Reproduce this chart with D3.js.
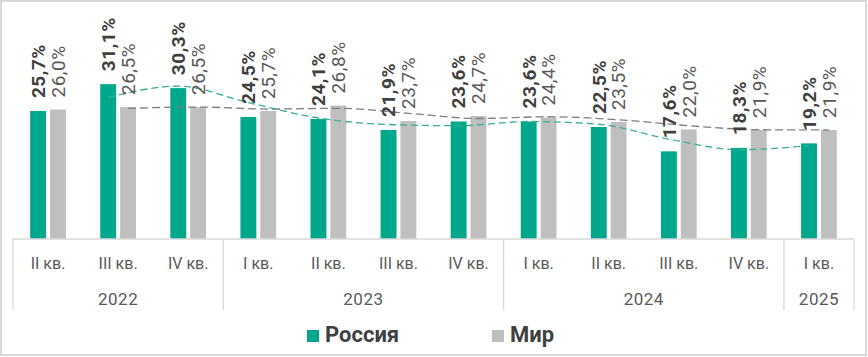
<!DOCTYPE html>
<html><head><meta charset="utf-8">
<script src="https://cdn.jsdelivr.net/npm/d3@7"></script>
<style>body{margin:0;background:#fff}svg{display:block}text{font-family:Roboto,"Noto Sans",sans-serif}</style>
</head><body>
<svg id="c" width="868" height="357"></svg>
<script>
const quarters = ["II кв.","III кв.","IV кв.","I кв.","II кв.","III кв.","IV кв.","I кв.","II кв.","III кв.","IV кв.","I кв."];
const years = [{label:"2022",from:0,to:3},{label:"2023",from:3,to:7},{label:"2024",from:7,to:11},{label:"2025",from:11,to:12}];
const seriesNames = ["Россия","Мир"];
const russia = [25.7,31.1,30.3,24.5,24.1,21.9,23.6,23.6,22.5,17.6,18.3,19.2];
const world  = [26.0,26.5,26.5,25.7,26.8,23.7,24.7,24.4,23.5,22.0,21.9,21.9];
const colors = {"Россия":"#00A88B","Мир":"#BFBFBF"};
const trendColors = {"Россия":"#3AAF94","Мир":"#7F7F7F"};

// 2-period moving average trendline (as in the source chart)
function movingAverage(arr){ return arr.map((v,i)=> i===0 ? null : (arr[i-1]+v)/2); }

const svg = d3.select("#c");
svg.append("rect").attr("x",1).attr("y",1).attr("width",865).attr("height",354)
  .attr("fill","#fff").attr("stroke","#D9D9D9").attr("stroke-width",2);

const left=13, right=854, baseY=239;
const idx = d3.range(quarters.length);
const x = d3.scaleBand().domain(idx).range([left,right]).padding(0);
const bw = x.bandwidth();
const xs = d3.scaleBand().domain(seriesNames).range([bw*0.245, bw*0.755]).paddingInner(0.2);
const y = d3.scaleLinear().domain([0,48]).range([baseY,0]);

const data = {"Россия":russia,"Мир":world};

// bars
seriesNames.forEach(s=>{
  svg.append("g").selectAll("rect").data(data[s]).join("rect")
    .attr("x",(d,i)=>x(i)+xs(s)).attr("width",xs.bandwidth())
    .attr("y",d=>y(d)).attr("height",d=>baseY-y(d)).attr("fill",colors[s]);
});

// trendlines
const line = d3.line().defined(d=>d[1]!=null).x(d=>d[0]).y(d=>y(d[1])).curve(d3.curveMonotoneX);
[["Мир",[8,4]],["Россия",[7,4]]].forEach(([s,dash])=>{
  const ma = movingAverage(data[s]);
  const pts = ma.map((v,i)=>[x(i)+xs(s)+xs.bandwidth()/2, v]).filter(p=>p[1]!=null);
  svg.append("path").attr("d",line(pts)).attr("fill","none")
    .attr("stroke",trendColors[s]).attr("stroke-width",1.3).attr("stroke-dasharray",dash.join(","));
});

// labels
const fmt = v => d3.format(".1f")(v).replace(".",",")+"%";
seriesNames.forEach(s=>{
  svg.append("g").selectAll("text").data(data[s]).join("text")
    .attr("transform",(d,i)=>`translate(${x(i)+xs(s)+xs.bandwidth()/2},${y(d)-(s==="Россия"?13:12)}) rotate(-90)`)
    .attr("dy","0.36em").attr("text-anchor","start")
    .attr("font-size",19).attr("letter-spacing",0.5).attr("font-weight",s==="Россия"?"bold":"normal")
    .attr("fill",s==="Россия"?"#404040":"#595959").text(fmt);
});

// axis
const ax = svg.append("g");
ax.append("line").attr("x1",left).attr("x2",right).attr("y1",baseY).attr("y2",baseY).attr("stroke","#D9D9D9").attr("stroke-width",1.3);
const bounds = [0,3,7,11,12];
bounds.forEach(b=>{
  const xx = b<quarters.length ? x(b) : right;
  ax.append("line").attr("x1",xx).attr("x2",xx).attr("y1",baseY).attr("y2",310).attr("stroke","#D9D9D9").attr("stroke-width",1.3);
});
ax.selectAll("text.q").data(quarters).join("text").attr("class","q")
  .attr("x",(d,i)=>x(i)+bw/2).attr("y",269).attr("text-anchor","middle")
  .attr("font-size",16).attr("fill","#595959").text(d=>d);
ax.selectAll("text.y").data(years).join("text").attr("class","y")
  .attr("x",d=>(x(d.from)+(d.to<quarters.length?x(d.to):right))/2).attr("y",305).attr("text-anchor","middle")
  .attr("font-size",17).attr("letter-spacing",0.5).attr("fill","#595959").text(d=>d.label);

// legend
const leg = [{s:"Россия",x:307},{s:"Мир",x:492}];
leg.forEach(l=>{
  svg.append("rect").attr("x",l.x).attr("y",330).attr("width",12).attr("height",12).attr("fill",colors[l.s]);
  svg.append("text").attr("x",l.x+18).attr("y",342).attr("font-size",22).attr("font-weight","bold")
    .attr("fill","#404040").text(l.s);
});
</script>
</body></html>
